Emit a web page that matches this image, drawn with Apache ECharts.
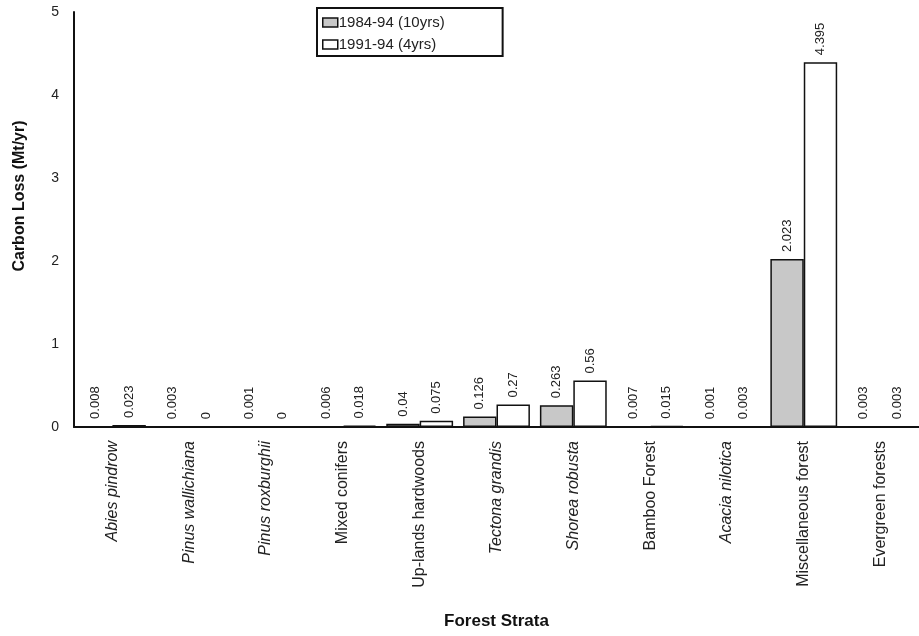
<!DOCTYPE html>
<html>
<head>
<meta charset="utf-8">
<script src="https://cdn.jsdelivr.net/npm/echarts@6/dist/echarts.min.js"></script>
<style>
  html, body { margin: 0; padding: 0; background: #fff; }
  #chart { width: 919px; height: 636px; }
</style>
</head>
<body>
<div id="chart"></div>
<script>
// Forest strata and whether the name is a botanical (italic) name
const strata = [
  'Abies pindrow', 'Pinus wallichiana', 'Pinus roxburghii', 'Mixed conifers',
  'Up-lands hardwoods', 'Tectona grandis', 'Shorea robusta', 'Bamboo Forest',
  'Acacia nilotica', 'Miscellaneous forest', 'Evergreen forests'
];
const italicNames = ['Abies pindrow', 'Pinus wallichiana', 'Pinus roxburghii',
  'Tectona grandis', 'Shorea robusta', 'Acacia nilotica'];

// Carbon loss (Mt/yr) per stratum
const loss1984_94 = [0.008, 0.003, 0.001, 0.006, 0.04, 0.126, 0.263, 0.007, 0.001, 2.023, 0.003];
const loss1991_94 = [0.023, 0, 0, 0.018, 0.075, 0.27, 0.56, 0.015, 0.003, 4.395, 0.003];

const seriesNames = ['1984-94 (10yrs)', '1991-94 (4yrs)'];
const yTicks = [0, 1, 2, 3, 4, 5];

const FONT = '"Liberation Sans", Arial, Helvetica, sans-serif';

const valueLabel = {
  show: true,
  position: 'top',
  rotate: 90,
  align: 'left',
  verticalAlign: 'middle',
  distance: 7,
  fontFamily: FONT,
  fontSize: 13,
  color: '#222',
  formatter: p => String(p.value)
};

const chart = echarts.init(document.getElementById('chart'), null, { renderer: 'canvas' });

chart.setOption({
  backgroundColor: '#fff',
  animation: false,
  textStyle: { fontFamily: FONT },
  grid: { left: 74, top: 12, width: 851, height: 415, containLabel: false },
  legend: {
    left: 317,
    top: 8,
    orient: 'vertical',
    data: seriesNames,
    icon: 'rect',
    backgroundColor: '#fff',
    borderColor: '#111',
    borderWidth: 2,
    borderRadius: 0,
    padding: [7, 58, 4, 5],
    itemWidth: 15,
    itemHeight: 9,
    itemGap: 7,
    itemStyle: { borderColor: '#111', borderWidth: 1.5 },
    textStyle: { fontFamily: FONT, fontSize: 15, color: '#222', padding: [0, 0, 0, -4] }
  },
  xAxis: {
    type: 'category',
    data: strata,
    name: 'Forest Strata',
    nameLocation: 'middle',
    nameGap: 186,
    nameTextStyle: { fontFamily: FONT, fontSize: 17, fontWeight: 'bold', color: '#111' },
    axisLine: { show: true, lineStyle: { color: '#111', width: 2 } },
    axisTick: { show: false },
    axisLabel: {
      interval: 0,
      rotate: 90,
      margin: 14,
      fontFamily: FONT,
      fontSize: 16,
      color: '#222',
      formatter: v => italicNames.includes(v) ? '{i|' + v + '}' : '{n|' + v + '}',
      rich: {
        i: { fontFamily: FONT, fontSize: 16, fontStyle: 'italic', color: '#222' },
        n: { fontFamily: FONT, fontSize: 16, color: '#222' }
      }
    }
  },
  yAxis: {
    type: 'value',
    min: yTicks[0],
    max: yTicks[yTicks.length - 1],
    interval: 1,
    name: 'Carbon Loss (Mt/yr)',
    nameLocation: 'middle',
    nameGap: 46,
    nameRotate: 90,
    nameTextStyle: { fontFamily: FONT, fontSize: 16, fontWeight: 'bold', color: '#111', padding: [0, 0, 0, 47] },
    axisLine: { show: true, lineStyle: { color: '#111', width: 2 } },
    axisTick: { show: false },
    splitLine: { show: false },
    axisLabel: { margin: 15, fontFamily: FONT, fontSize: 14, color: '#222' }
  },
  series: [
    {
      name: seriesNames[0],
      type: 'bar',
      data: loss1984_94,
      barGap: '0%',
      barCategoryGap: '13%',
      itemStyle: { color: '#c8c8c8', borderColor: '#111', borderWidth: 1.5 },
      label: valueLabel
    },
    {
      name: seriesNames[1],
      type: 'bar',
      data: loss1991_94,
      barGap: '0%',
      barCategoryGap: '13%',
      itemStyle: { color: '#ffffff', borderColor: '#111', borderWidth: 1.5 },
      label: valueLabel
    }
  ]
});
</script>
</body>
</html>
